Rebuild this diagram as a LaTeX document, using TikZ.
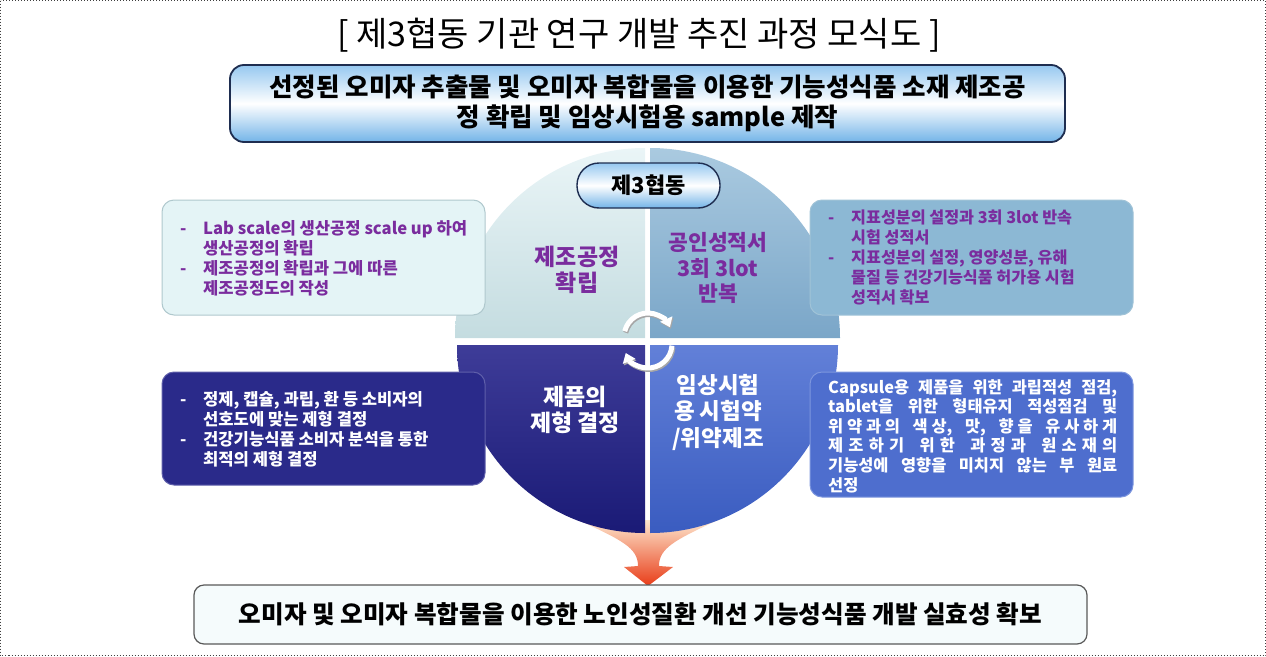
\documentclass[tikz,border=0pt]{standalone}
\usepackage{fontspec}
\newfontfamily\kr{Noto Sans CJK KR}
\usetikzlibrary{arrows.meta}
\definecolor{purp}{RGB}{122,44,158}
\definecolor{navyb}{RGB}{30,45,80}
\definecolor{glossA}{RGB}{150,200,240}
\definecolor{glossB}{RGB}{115,180,232}
\definecolor{qtlA}{RGB}{234,245,247}
\definecolor{qtlB}{RGB}{196,220,224}
\definecolor{qtrA}{RGB}{170,202,224}
\definecolor{qtrB}{RGB}{122,166,200}
\definecolor{qblA}{RGB}{62,60,152}
\definecolor{qblB}{RGB}{26,26,118}
\definecolor{qbrA}{RGB}{98,128,216}
\definecolor{qbrB}{RGB}{58,92,192}
\definecolor{ltfill}{RGB}{228,244,246}
\definecolor{ltdraw}{RGB}{175,200,205}
\definecolor{rtfill}{RGB}{140,184,212}
\definecolor{rtdraw}{RGB}{160,195,215}
\definecolor{lbfill}{RGB}{42,42,138}
\definecolor{lbdraw}{RGB}{95,95,170}
\definecolor{rbfill}{RGB}{78,110,206}
\definecolor{rbdraw}{RGB}{125,150,222}
\definecolor{botfill}{RGB}{245,251,252}
\definecolor{funA}{RGB}{253,230,205}
\definecolor{funB}{RGB}{232,60,24}
\newcommand\mydash{\makebox[23pt][l]{-}}
\newcommand\myind{\hspace*{23pt}}
\newcommand\lsp{\hskip 0pt plus 1fil}
\newcommand\wsp{\hskip 5pt plus 2fil}
\begin{document}
\begin{tikzpicture}[x=1pt,y=1pt,
  sidebox/.style={rounded corners=12pt, line width=1pt, inner sep=0pt, minimum width=323, minimum height=115},
  sidetext/.style={font=\kr\bfseries\fontsize{16.6}{20}\selectfont, align=left, anchor=west, inner sep=0pt},
  quadtext/.style={font=\kr\bfseries\fontsize{23}{26}\selectfont, align=center, inner sep=0pt},
  cyc/.style={white, line width=5pt, -{Triangle[width=13pt,length=9pt]}},
  cycshadow/.style={black!35, line width=5pt, -{Triangle[width=13pt,length=9pt]}}
]
\useasboundingbox (0,0) rectangle (1266,-656);
\draw[dotted, line width=1pt, black!75] (0.5,-0.5) rectangle (1265.5,-655.5);

% title
\node[font=\kr\fontsize{34}{36}\selectfont, inner sep=0pt] (title) at (639,-35) {[ 제3협동 기관 연구 개발 추진 과정 모식도 ]};

% top box
\node[draw=navyb, line width=1.8pt, rounded corners=14pt, top color=glossA, bottom color=glossB, middle color=white,
      minimum width=835, minimum height=77, inner sep=0pt, align=center,
      font=\kr\bfseries\fontsize{25.5}{29.5}\selectfont] (top) at (647.5,-103.5)
  {선정된 오미자 추출물 및 오미자 복합물을 이용한 기능성식품 소재 제조공\\정 확립 및 임상시험용 sample 제작};

% funnel arrow
\shade[top color=funA, bottom color=funB]
  (578,-520) .. controls (622,-540) and (638,-548) .. (638,-566) -- (624,-567) -- (648,-586)
  -- (673,-567) -- (659,-566) .. controls (659,-548) and (675,-540) .. (718,-520) -- cycle;

% quadrants
\shade[top color=qtlA, bottom color=qtlB] (645,-338) -- (455,-338) arc[start angle=180, end angle=90, radius=190] -- cycle;
\shade[top color=qtrA, bottom color=qtrB] (650,-338) -- (650,-148) arc[start angle=90, end angle=0, radius=190] -- cycle;
\shade[top color=qblA, bottom color=qblB] (645,-345) -- (457,-345) arc[start angle=180, end angle=270, radius=188] -- cycle;
\shade[top color=qbrA, bottom color=qbrB] (650,-345) -- (650,-533) arc[start angle=270, end angle=360, radius=188] -- cycle;

% cycle arrows
\coordinate (c1) at (648,-337);
\coordinate (c2) at (648,-344);
\draw[cycshadow] ([shift={(166:24)}]c1) ++(1,-1.5) arc[start angle=166, end angle=24, radius=24];
\draw[cyc] ([shift={(166:24)}]c1) arc[start angle=166, end angle=24, radius=24];
\draw[cycshadow] ([shift={(-4:24)}]c2) ++(1,-1.5) arc[start angle=-4, end angle=-158, radius=24];
\draw[cyc] ([shift={(-4:24)}]c2) arc[start angle=-4, end angle=-158, radius=24];

% quadrant texts
\node[quadtext, text=purp] (qtl) at (577,-270) {제조공정\\확립};
\node[quadtext, text=purp, font=\kr\bfseries\fontsize{21.5}{25.5}\selectfont] (qtr) at (718,-268) {공인성적서\\3회 3lot\\반복};
\node[quadtext, text=white] (qbl) at (575,-410) {제품의\\제형 결정};
\node[quadtext, text=white, font=\kr\bfseries\fontsize{22.5}{26.5}\selectfont] (qbr) at (718,-412) {임상시험\\용 시험약\\/위약제조};

% coop pill
\node[draw=navyb, line width=1.4pt, rounded corners=22pt, top color=glossA, bottom color=glossB, middle color=white,
      minimum width=143, minimum height=45, inner sep=0pt,
      font=\kr\bfseries\fontsize{22}{24}\selectfont] (coop) at (648.5,-185.5) {제3협동};

% side boxes
\node[sidebox, fill=ltfill, draw=ltdraw] (ltb) at (323.5,-257.5) {};
\node[sidebox, fill=rtfill, draw=rtdraw] (rtb) at (971.5,-257.5) {};
\node[sidebox, fill=lbfill, draw=lbdraw, minimum height=113] (lbb) at (323.5,-428.5) {};
\node[sidebox, fill=rbfill, draw=rbdraw, minimum height=125] (rbb) at (971.5,-434.5) {};

\node[sidetext, text=purp] (ltt) at (180,-258)
 {\mydash Lab scale의 생산공정 scale up 하여\\\myind 생산공정의 확립\\\mydash 제조공정의 확립과 그에 따른\\\myind 제조공정도의 작성};
\node[sidetext, text=purp, font=\kr\bfseries\fontsize{16.2}{20}\selectfont] (rtt) at (828,-257)
 {\mydash 지표성분의 설정과 3회 3lot 반속\\\myind 시험 성적서\\\mydash 지표성분의 설정, 영양성분, 유해\\\myind 물질 등 건강기능식품 허가용 시험\\\myind 성적서 확보};
\node[sidetext, text=white] (lbt) at (180,-429)
 {\mydash 정제, 캡슐, 과립, 환 등 소비자의\\\myind 선호도에 맞는 제형 결정\\\mydash 건강기능식품 소비자 분석을 통한\\\myind 최적의 제형 결정};
\node[sidetext, text=white, font=\kr\bfseries\fontsize{16.4}{19.6}\selectfont] (rbt) at (828,-436)
 {\makebox[289pt][s]{Capsule용 제품을 위한 과립적성 점검,}\\
  \makebox[289pt][s]{tablet을 위한 형태유지 적성점검 및}\\
  \makebox[289pt][s]{위\lsp 약\lsp 과\lsp 의\wsp 색\lsp 상,\wsp 맛,\wsp 향\lsp 을\wsp 유\lsp 사\lsp 하\lsp 게}\\
  \makebox[289pt][s]{제\lsp 조\lsp 하\lsp 기\wsp 위\lsp 한\wsp 과\lsp 정\lsp 과\wsp 원\lsp 소\lsp 재\lsp 의}\\
  \makebox[289pt][s]{기능성에 영향을 미치지 않는 부 원료}\\
  선정};

% bottom box
\node[draw=black!65, line width=1.2pt, rounded corners=10pt, fill=botfill,
      minimum width=893, minimum height=59, inner sep=0pt,
      font=\kr\bfseries\fontsize{24.6}{27}\selectfont] (bot) at (640.5,-614.5)
  {오미자 및 오미자 복합물을 이용한 노인성질환 개선 기능성식품 개발 실효성 확보};
\end{tikzpicture}
\end{document}
